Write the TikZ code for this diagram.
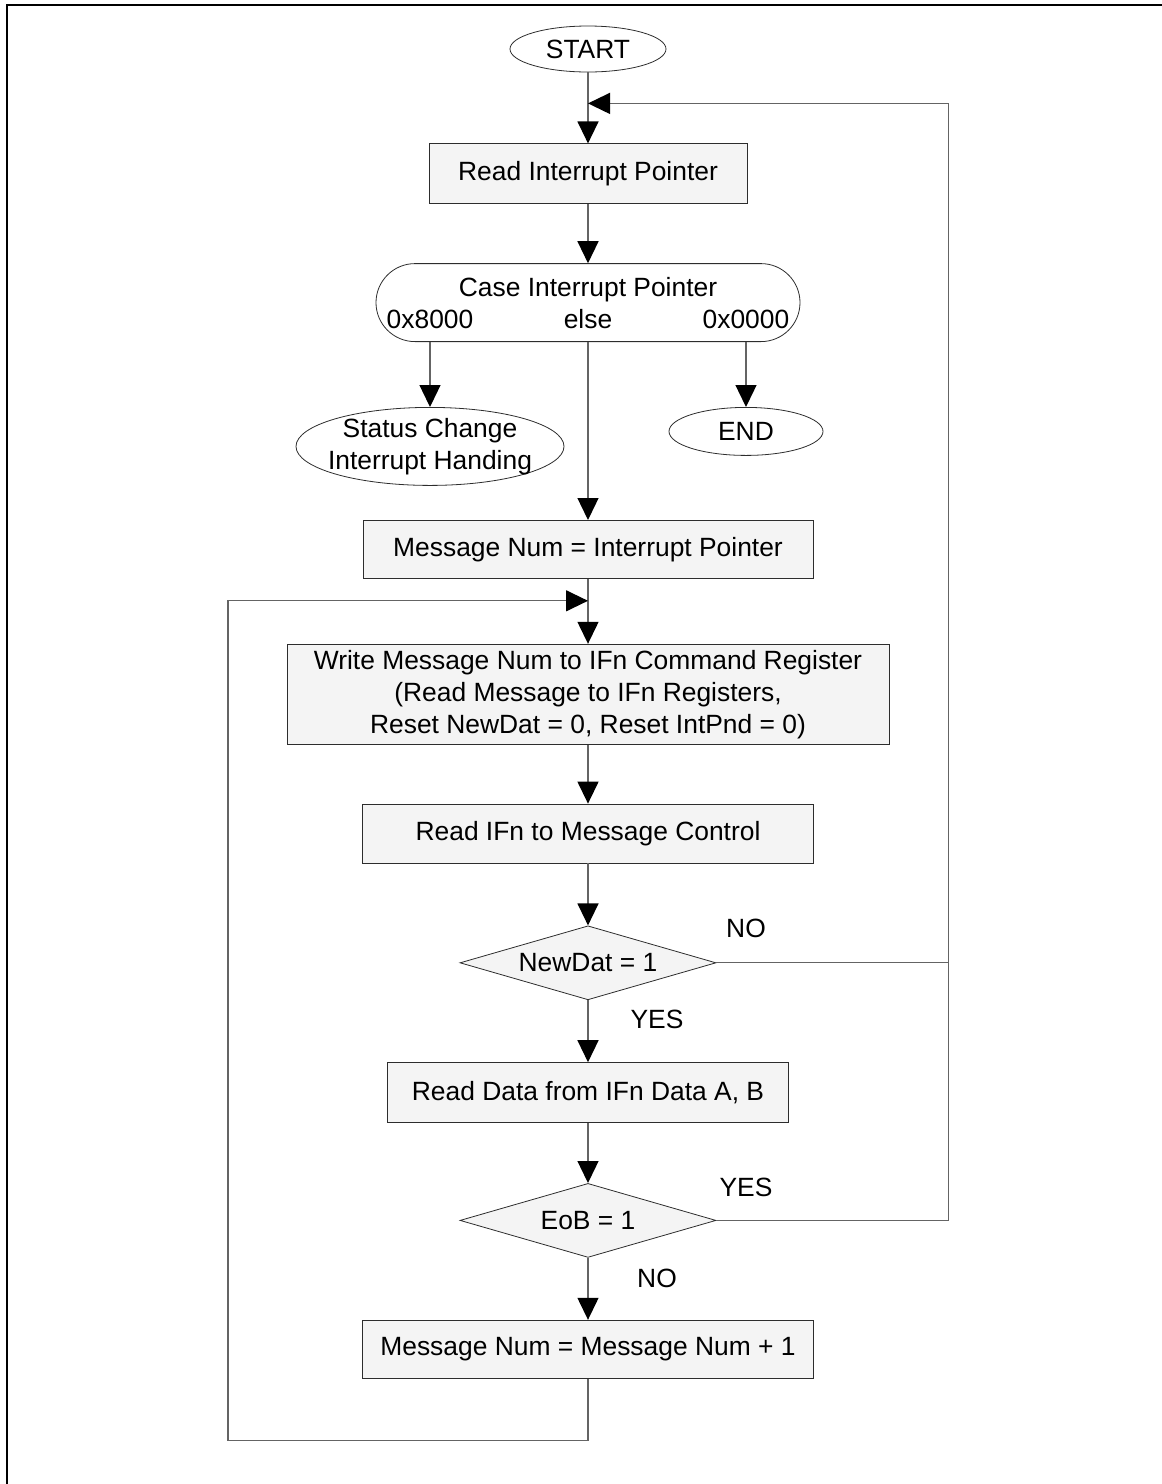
\documentclass[tikz,border=0pt]{standalone}
\usepackage{fontspec}
\setmainfont{Liberation Sans}
\usetikzlibrary{arrows.meta,shapes.geometric,positioning,calc}
\definecolor{wire}{RGB}{100,100,100}
\definecolor{edge}{RGB}{45,45,45}
\definecolor{boxbg}{RGB}{244,244,244}

\tikzset{
  proc/.style={draw=edge,fill=boxbg,rectangle,minimum height=29pt,
               inner sep=2pt,align=center},
  term/.style={draw=edge,fill=white,ellipse,inner sep=1pt},
  cond/.style={draw=edge,fill=boxbg,diamond,shape aspect=3.46,minimum width=128pt,
               minimum height=37pt,inner sep=0pt},
  flow/.style={wire,line width=0.65pt,-{Triangle[length=11pt,width=10.5pt]},
               arrows={[color=black]}},
  link/.style={wire,line width=0.65pt},
  tag/.style={inner sep=0pt}
}

\begin{document}
\begin{tikzpicture}[every node/.style={font=\fontsize{13.2}{16}\selectfont}]
  \useasboundingbox (0,0) rectangle (581pt,-742pt);
  \draw[line width=1pt] (581pt,-2.5pt) -- (3.5pt,-2.5pt) -- (3.5pt,-742pt);

  \node[term,minimum width=78pt,minimum height=23pt] (start) at (294pt,-24.5pt) {START};
  \node[proc,minimum width=159pt,minimum height=30pt,below=35.5pt of start] (rip)
        {Read Interrupt Pointer};
  \node[draw=edge,fill=white,rounded corners=19.5pt,minimum width=212pt,
        minimum height=39pt,inner sep=2pt,align=center,below=29.5pt of rip] (case)
        {Case Interrupt Pointer\\\makebox[201.3pt]{0x8000\hfill else\hfill 0x0000}};
  \node[term,minimum width=134pt,minimum height=39pt,anchor=north,
        label={[align=center]center:Status Change\\Interrupt Handing}] (stat)
        at ([xshift=-79pt,yshift=-32.5pt]case.south) {};
  \node[term,minimum width=77pt,minimum height=24pt,anchor=north] (stop)
        at ([xshift=79pt,yshift=-32.5pt]case.south) {END};
  \node[proc,minimum width=225pt,below=89pt of case] (mni)
        {Message Num = Interrupt Pointer};
  \node[proc,minimum width=301pt,minimum height=50pt,below=32.5pt of mni] (write)
        {Write Message Num to IFn Command Register\\
         (Read Message to IFn Registers,\\
         Reset NewDat = 0, Reset IntPnd = 0)};
  \node[proc,minimum width=225.5pt,minimum height=29.5pt,below=29.5pt of write] (rifn)
        {Read IFn to Message Control};
  \node[cond,below=31pt of rifn] (newdat) {NewDat = 1};
  \node[proc,minimum width=200.5pt,minimum height=30pt,below=31pt of newdat] (rdata)
        {Read Data from IFn Data A, B};
  \node[cond,below=30pt of rdata] (eob) {EoB = 1};
  \node[proc,minimum width=225.5pt,below=31pt of eob] (mninc)
        {Message Num = Message Num + 1};

  % branch labels
  \node[tag] (ndno)  at ([xshift=79pt,yshift=17pt]newdat.center) {NO};
  \node[tag] (ndyes) at ([xshift=34.5pt,yshift=-28.5pt]newdat.center) {YES};
  \node[tag] (ebyes) at ([xshift=79pt,yshift=16.5pt]eob.center) {YES};
  \node[tag] (ebno)  at ([xshift=34.5pt,yshift=-29pt]eob.center) {NO};

  % return points
  \coordinate (topin) at ([yshift=20pt]rip.north);
  \coordinate (rail) at ([xshift=116pt]newdat.east);
  \coordinate (loopin) at ([yshift=21.5pt]write.north);
  \coordinate (loopbot) at ([yshift=-31pt]mninc.south);
  \coordinate (loopx) at ([xshift=-180pt]loopin);

  \draw[flow] (start) -- (rip);
  \draw[flow] (rip) -- (case);
  \draw[flow] (case.south -| stat.north) -- (stat.north);
  \draw[flow] (case.south -| stop.north) -- (stop.north);
  \draw[flow] (case) -- (mni);
  \draw[flow] (mni) -- (write);
  \draw[flow] (write) -- (rifn);
  \draw[flow] (rifn) -- (newdat);
  \draw[flow] (newdat) -- (rdata);
  \draw[flow] (rdata) -- (eob);
  \draw[flow] (eob) -- (mninc);
  \draw[flow] (newdat.east) -- (rail |- newdat.east) -- (rail |- topin) -- (topin);
  \draw[link] (eob.east) -- (rail |- eob.east) -- (rail |- newdat.east);
  \draw[flow] (mninc.south) -- (loopbot) -- (loopbot -| loopx) -- (loopx) -- (loopin);
\end{tikzpicture}
\end{document}
